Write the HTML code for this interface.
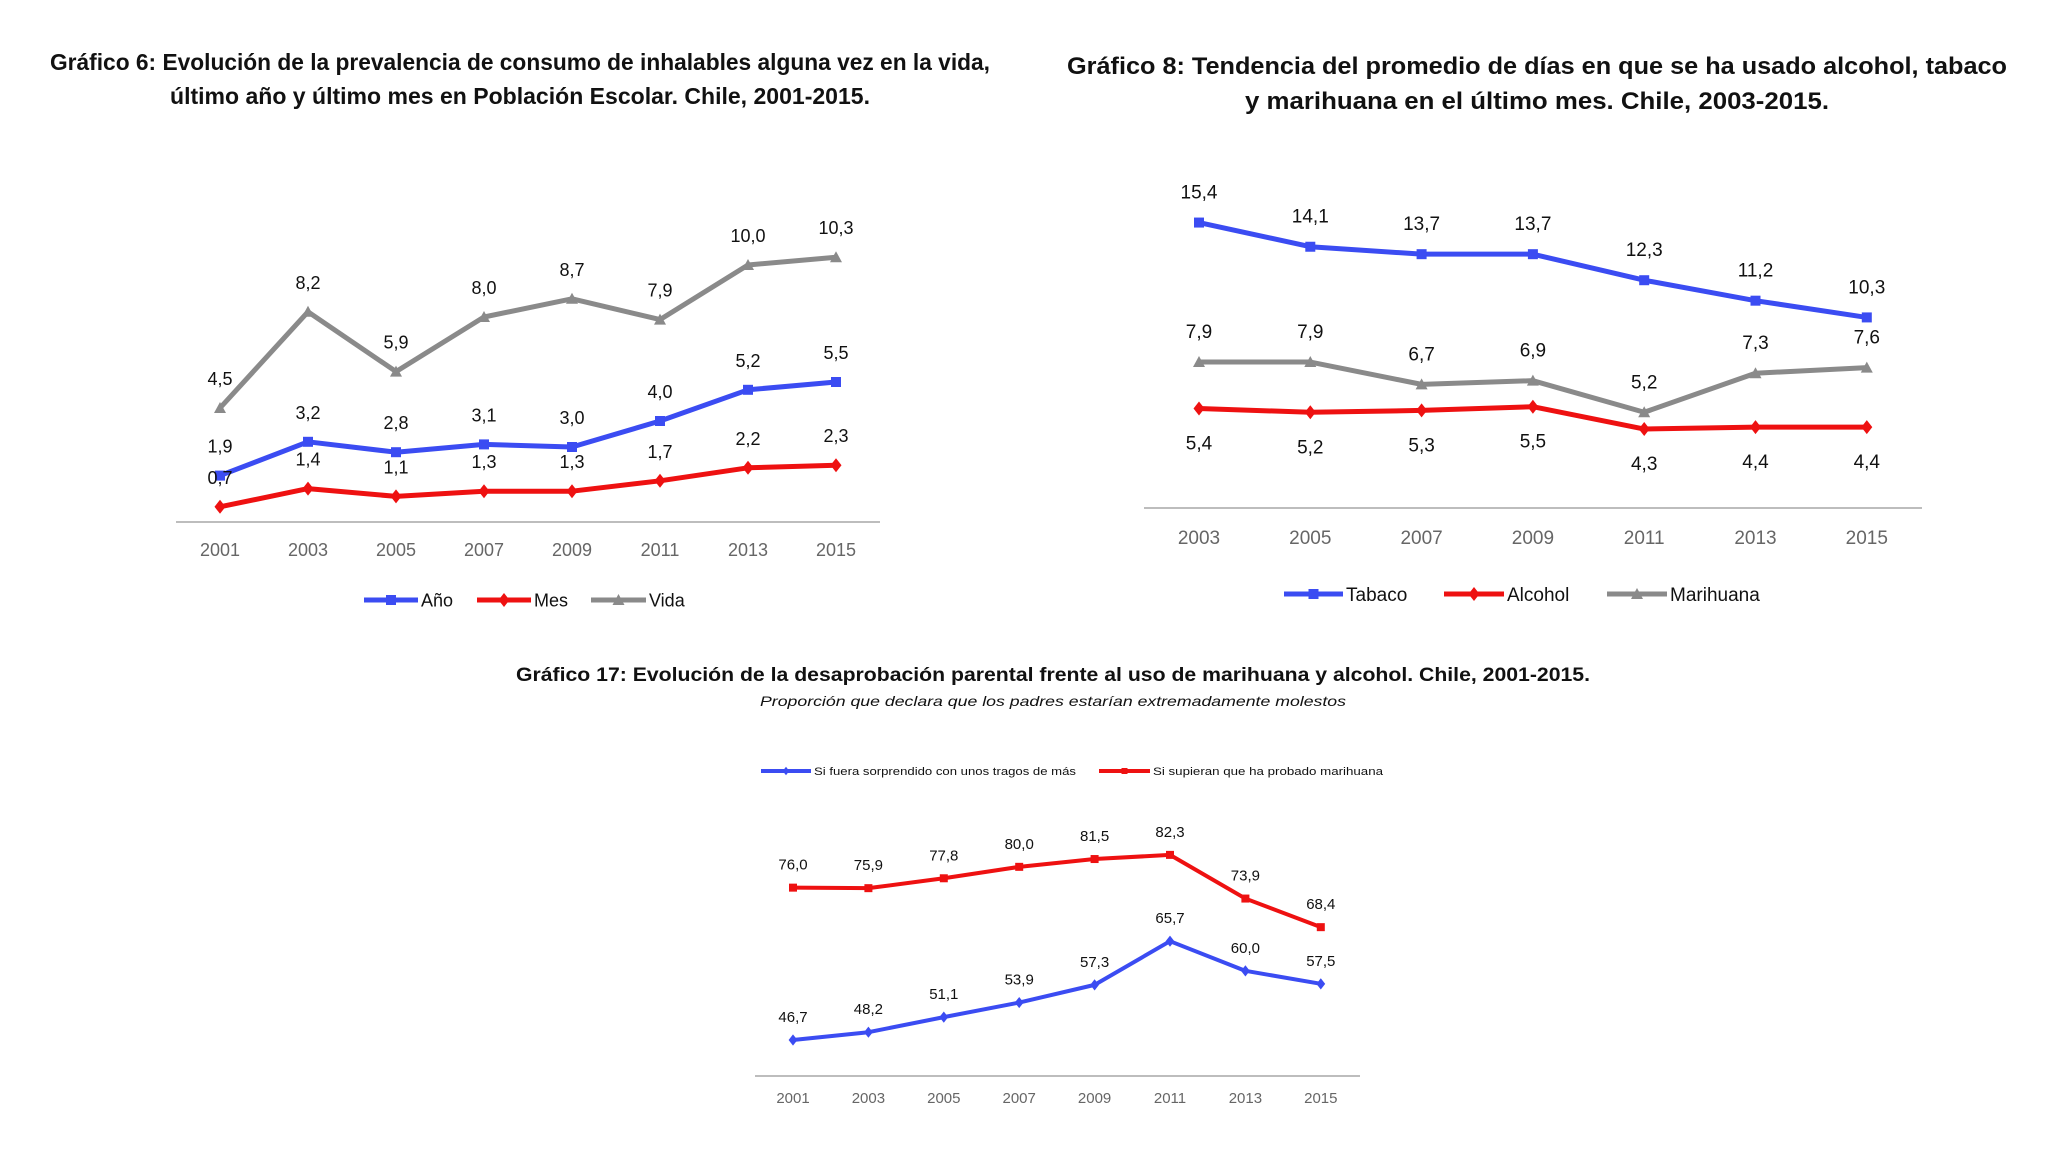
<!DOCTYPE html>
<html><head><meta charset="utf-8"><style>
html,body{margin:0;padding:0;background:#fff;overflow:hidden;}
svg{display:block;font-family:"Liberation Sans",sans-serif;}
</style></head><body>
<svg id="s" width="2048" height="1152" viewBox="0 0 2048 1152">
<rect width="2048" height="1152" fill="#ffffff"/>
<g font-weight="bold" font-size="23" fill="#111">
<text x="520" y="70" text-anchor="middle" textLength="940" lengthAdjust="spacingAndGlyphs">Gráfico 6: Evolución de la prevalencia de consumo de inhalables alguna vez en la vida,</text>
<text x="520" y="104" text-anchor="middle" textLength="700" lengthAdjust="spacingAndGlyphs">último año y último mes en Población Escolar. Chile, 2001-2015.</text>
</g>
<g font-weight="bold" font-size="24" fill="#111">
<text x="1537" y="74" text-anchor="middle" textLength="940" lengthAdjust="spacingAndGlyphs">Gráfico 8: Tendencia del promedio de días en que se ha usado alcohol, tabaco</text>
<text x="1537" y="109" text-anchor="middle" textLength="584" lengthAdjust="spacingAndGlyphs">y marihuana en el último mes. Chile, 2003-2015.</text>
</g>
<g fill="#111">
<text x="1053" y="681" text-anchor="middle" font-weight="bold" font-size="19" textLength="1074" lengthAdjust="spacingAndGlyphs">Gráfico 17: Evolución de la desaprobación parental frente al uso de marihuana y alcohol. Chile, 2001-2015.</text>
<text x="1053" y="706" text-anchor="middle" font-style="italic" font-size="14" textLength="586" lengthAdjust="spacingAndGlyphs">Proporción que declara que los padres estarían extremadamente molestos</text>
</g>
<g id="c6"></g>
<g id="c8"></g>
<g id="c17"></g>
</svg>
<script>
const years6 = ["2001","2003","2005","2007","2009","2011","2013","2015"];
const ano6 = [1.9,3.2,2.8,3.1,3.0,4.0,5.2,5.5];
const mes6 = [0.7,1.4,1.1,1.3,1.3,1.7,2.2,2.3];
const vida6 = [4.5,8.2,5.9,8.0,8.7,7.9,10.0,10.3];
const years8 = ["2003","2005","2007","2009","2011","2013","2015"];
const tabaco8 = [15.4,14.1,13.7,13.7,12.3,11.2,10.3];
const alcohol8 = [5.4,5.2,5.3,5.5,4.3,4.4,4.4];
const marihuana8 = [7.9,7.9,6.7,6.9,5.2,7.3,7.6];
const years17 = ["2001","2003","2005","2007","2009","2011","2013","2015"];
const tragos17 = [46.7,48.2,51.1,53.9,57.3,65.7,60.0,57.5];
const marih17 = [76.0,75.9,77.8,80.0,81.5,82.3,73.9,68.4];

const NS="http://www.w3.org/2000/svg";
const BLUE="#3b4cf2", RED="#ee1111", GRAY="#8a8a8a";
function mk(tag,attrs,parent){const e=document.createElementNS(NS,tag);for(const k in attrs)e.setAttribute(k,attrs[k]);parent.appendChild(e);return e;}
function fmt(v){return v.toFixed(1).replace('.',',');}
function marker(g,shape,x,y,c,s){
  let m;
  if(shape==='sq') m=mk('rect',{x:x-s,y:y-s,width:2*s,height:2*s,fill:c},g);
  else if(shape==='di') m=mk('polygon',{points:`${x},${y-s*1.4} ${x+s*1.1},${y} ${x},${y+s*1.4} ${x-s*1.1},${y}`,fill:c},g);
  else m=mk('polygon',{points:`${x},${y-s*1.2} ${x+s*1.2},${y+s} ${x-s*1.2},${y+s}`,fill:c},g);
  return m;
}
function series(g,name,vals,xf,yf,c,shape,lw,ms,lblOff,fs){
  const sg=mk('g',{},g);
  
  
  const pts=vals.map((v,i)=>xf(i)+','+yf(v)).join(' ');
  const pl=mk('polyline',{points:pts,fill:'none',stroke:c,'stroke-width':lw,'stroke-linejoin':'round'},sg);
  
  
  vals.forEach((v,i)=>{
    const m=marker(sg,shape,xf(i),yf(v),c,ms);
    
    
    const t=mk('text',{x:xf(i),y:yf(v)+lblOff,'text-anchor':'middle','font-size':fs,fill:'#111'},sg);
    
    
    t.textContent=fmt(v);
  });
}
function axis(g,name,cats,xf,y,x1,x2,ly,fs){
  const l=mk('line',{x1:x1,x2:x2,y1:y,y2:y,stroke:'#bdbdbd','stroke-width':2},g);
  
  
  cats.forEach((c,i)=>{
    const t=mk('text',{x:xf(i),y:ly,'text-anchor':'middle','font-size':fs,fill:'#666'},g);
    
    
    t.textContent=c;
  });
}
function legend(g,name,items,y,fs,lw,ms){
  items.forEach(it=>{
    const lg=mk('g',{},g);
    
    
    mk('line',{x1:it.x1,x2:it.x2,y1:y,y2:y,stroke:it.c,'stroke-width':lw},lg);
    marker(lg,it.shape,(it.x1+it.x2)/2,y,it.c,ms);
    const t=mk('text',{x:it.x2+3,y:y+fs*0.36,'font-size':fs,fill:'#111'},lg);
    if(it.tl){t.setAttribute('textLength',it.tl);t.setAttribute('lengthAdjust','spacingAndGlyphs');}
    t.textContent=it.label;
  });
}
// Chart 6
(function(){
  const g=document.getElementById('c6');
  const xf=i=>220+i*88, yf=v=>525-v*26;
  axis(g,'chart6',years6,xf,522,176,880,556,18);
  series(g,'vida',vida6,xf,yf,GRAY,'tr',5,5,-23,18);
  series(g,'ano',ano6,xf,yf,BLUE,'sq',5,5,-23,18);
  series(g,'mes',mes6,xf,yf,RED,'di',5,5,-23,18);
  legend(g,'chart6',[
    {key:'ano',label:'Año',x1:364,x2:418,c:BLUE,shape:'sq'},
    {key:'mes',label:'Mes',x1:477,x2:531,c:RED,shape:'di'},
    {key:'vida',label:'Vida',x1:591,x2:646,c:GRAY,shape:'tr'}],600,18,5,5);
})();
// Chart 8
(function(){
  const g=document.getElementById('c8');
  const xf=i=>1199+i*111.3, yf=v=>509-v*18.6;
  axis(g,'chart8',years8,xf,508,1144,1922,544,19);
  series(g,'marihuana',marihuana8,xf,yf,GRAY,'tr',5,5,-24,19);
  series(g,'tabaco',tabaco8,xf,yf,BLUE,'sq',5,5,-24,19);
  series(g,'alcohol',alcohol8,xf,yf,RED,'di',5,5,41,19);
  legend(g,'chart8',[
    {key:'tabaco',label:'Tabaco',x1:1284,x2:1343,c:BLUE,shape:'sq'},
    {key:'alcohol',label:'Alcohol',x1:1444,x2:1504,c:RED,shape:'di'},
    {key:'marihuana',label:'Marihuana',x1:1607,x2:1667,c:GRAY,shape:'tr'}],594,19,5,5);
})();
// Chart 17
(function(){
  const g=document.getElementById('c17');
  const xf=i=>793+i*75.4, yf=v=>1040-(v-46.7)*5.2;
  axis(g,'chart17',years17,xf,1076,755,1360,1103,15);
  series(g,'marihuana-disapproval',marih17,xf,yf,RED,'sq',4,4,-18,15);
  series(g,'alcohol-disapproval',tragos17,xf,yf,BLUE,'di',4,4,-18,15);
  legend(g,'chart17',[
    {key:'tragos',label:'Si fuera sorprendido con unos tragos de más',x1:761,x2:811,c:BLUE,shape:'di',tl:262},
    {key:'marihuana',label:'Si supieran que ha probado marihuana',x1:1099,x2:1150,c:RED,shape:'sq',tl:230}],771,11,4,3);
})();
</script>
</body></html>
